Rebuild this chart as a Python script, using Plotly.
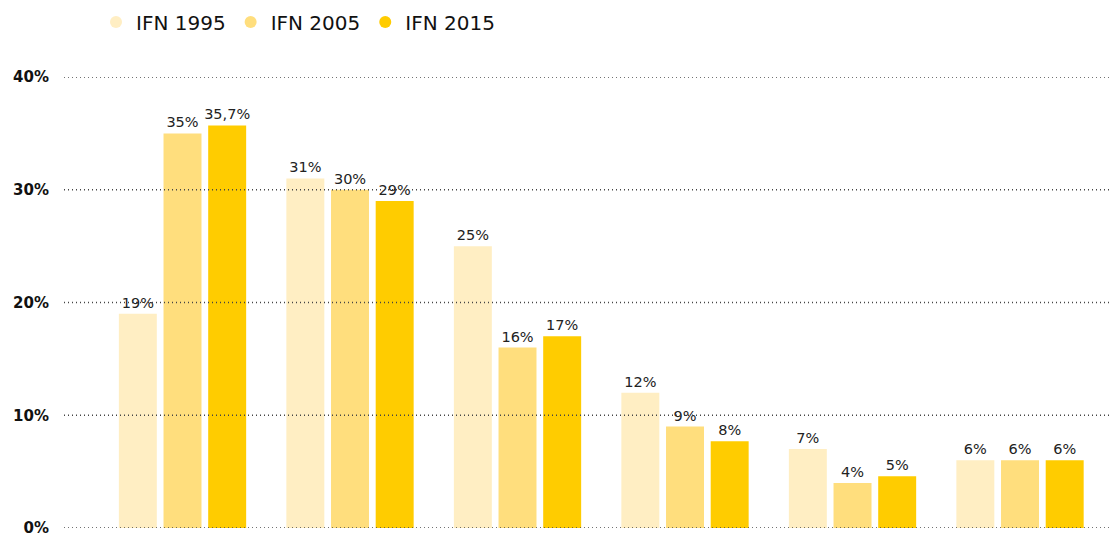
import plotly.graph_objects as go

categories = ["A", "B", "C", "D", "E", "F"]
series_names = ["IFN 1995", "IFN 2005", "IFN 2015"]
values_1995 = [19, 31, 25, 12, 7, 6]
values_2005 = [35, 30, 16, 9, 4, 6]
values_2015 = [35.7, 29, 17, 7.7, 4.6, 6]
labels_1995 = ["19%", "31%", "25%", "12%", "7%", "6%"]
labels_2005 = ["35%", "30%", "16%", "9%", "4%", "6%"]
labels_2015 = ["35,7%", "29%", "17%", "8%", "5%", "6%"]
colors = ["#FFEEC3", "#FFDE7D", "#FFCC00"]
tick_values = [0, 10, 20, 30, 40]
tick_labels = ["0%", "10%", "20%", "30%", "40%"]

FONT = "DejaVu Sans"
W, H = 1109, 525  # page body has an 8px margin
fig = go.Figure()
xs = list(range(len(categories)))
for name, vals, labs, col in zip(series_names,
                                  [values_1995, values_2005, values_2015],
                                  [labels_1995, labels_2005, labels_2015],
                                  colors):
    fig.add_trace(go.Bar(
        x=xs, y=vals, name=name, showlegend=False,
        marker=dict(color=col, line=dict(width=0)),
        text=labs, textposition="outside", cliponaxis=False, constraintext="none",
        textfont=dict(family=FONT, size=14.5, color="#222222"),
        hoverinfo="skip",
    ))
# legend entries with round markers
for name, col in zip(series_names, colors):
    fig.add_trace(go.Scatter(
        x=[None], y=[None], mode="markers", name=name,
        marker=dict(color=col, size=16, symbol="circle"),
        showlegend=True, hoverinfo="skip",
    ))

for tv in tick_values:
    fig.add_shape(type="line", xref="paper", x0=0, x1=1, yref="y", y0=tv, y1=tv,
                  line=dict(color="#444444", width=1.5, dash="1px,3px"), layer="above")

fig.update_layout(
    width=W, height=H,
    margin=dict(l=56, r=0, t=69, b=5, autoexpand=False),
    paper_bgcolor="white", plot_bgcolor="white",
    barmode="group", bargap=0.2, bargroupgap=0.15,
    showlegend=True,
    legend=dict(orientation="h", x=88/W, y=1 - 14/H, xref="container", yref="container",
                xanchor="left", yanchor="middle",
                font=dict(family=FONT, size=20, color="#111111"),
                itemsizing="constant", traceorder="normal", itemwidth=30,
                bgcolor="rgba(0,0,0,0)"),
    xaxis=dict(range=[-0.7075, 5.579], showticklabels=False, showgrid=False,
               zeroline=False, showline=False, automargin=False),
    yaxis=dict(range=[0, 40], tickvals=tick_values, ticktext=tick_labels,
               showgrid=False, zeroline=False, showline=False, ticks="",
               ticklabelstandoff=14, automargin=False, ticklabeloverflow="allow",
               tickfont=dict(family=FONT, size=15, color="#111111", weight="bold")),
)
fig.write_html("out.html")
